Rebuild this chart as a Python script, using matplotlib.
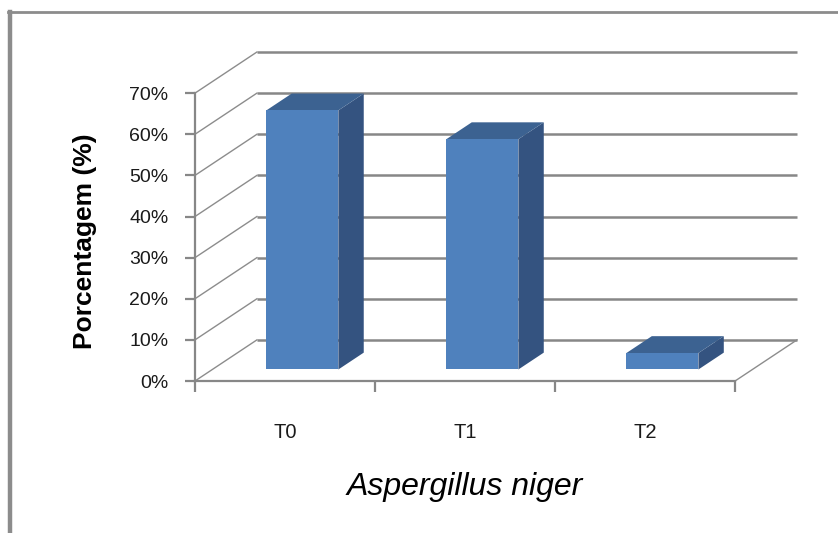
import numpy as np
import matplotlib.pyplot as plt
from matplotlib.patches import Polygon
from matplotlib.lines import Line2D

# dados do gráfico
categorias = ['T0', 'T1', 'T2']
valores = [0.63, 0.56, 0.04]
ticks_y = [0.0, 0.1, 0.2, 0.3, 0.4, 0.5, 0.6, 0.7]
rotulos_y = ['0%', '10%', '20%', '30%', '40%', '50%', '60%', '70%']

# geometria do "3D" obliquo (estilo Excel)
prof_x = 0.344   # deslocamento da profundidade em x (unidades de categoria)
prof_y = 0.10    # deslocamento da profundidade em y (unidades de valor)
larg = 0.4       # largura da barra
d0, d1 = 0.28, 0.69  # profundidade da face frontal e traseira da barra

cor_grade = '#878787'
cor_frente = '#4F81BD'
cor_lado = '#345380'
cor_topo = '#3C6291'

fig = plt.figure(figsize=(8.38, 5.33), dpi=100)
ax = fig.add_axes([195 / 838, 152 / 533, 602 / 838, 329 / 533])
n = len(categorias)
ax.set_xlim(0, n + prof_x)
ax.set_ylim(0, ticks_y[-1] + prof_y)


def p(x, y, d):
    return (x + d * prof_x, y + d * prof_y)


# parede do fundo e parede lateral
for t in ticks_y:
    x0, y0 = p(0, t, 1)
    x1, y1 = p(n, t, 1)
    ax.plot([x0, x1], [y0, y1], color=cor_grade, lw=1.8, zorder=1,
            solid_capstyle='butt', clip_on=False)
    ax.plot([0, x0], [t, y0], color='#8c8c8c', lw=1.0, zorder=1, clip_on=False)

# piso
xa, ya = p(n, 0, 1)
ax.plot([n, xa], [0, ya], color='#8c8c8c', lw=1.0, zorder=1, clip_on=False)

# barras
for i, v in enumerate(valores):
    xe = i + (1 - larg) / 2
    xd = xe + larg
    frente = [p(xe, 0, d0), p(xd, 0, d0), p(xd, v, d0), p(xe, v, d0)]
    lado = [p(xd, 0, d0), p(xd, 0, d1), p(xd, v, d1), p(xd, v, d0)]
    topo = [p(xe, v, d0), p(xd, v, d0), p(xd, v, d1), p(xe, v, d1)]
    ax.add_patch(Polygon(lado, closed=True, fc=cor_lado, ec='none', zorder=3))
    ax.add_patch(Polygon(topo, closed=True, fc=cor_topo, ec='none', zorder=3))
    ax.add_patch(Polygon(frente, closed=True, fc=cor_frente, ec='none', zorder=4))

# eixos
for s in ['top', 'right']:
    ax.spines[s].set_visible(False)
ax.spines['left'].set_bounds(0, ticks_y[-1])
ax.spines['bottom'].set_bounds(0, n)
for s in ['left', 'bottom']:
    ax.spines[s].set_color(cor_grade)
    ax.spines[s].set_linewidth(1.6)
ax.patch.set_visible(False)

ax.set_yticks(ticks_y)
ax.set_yticklabels(rotulos_y, fontsize=14, family='Liberation Sans', color='#1a1a1a')
ax.tick_params(axis='y', length=7, width=1.6, color=cor_grade, pad=12)

ax.set_xticks(np.arange(n + 1))
ax.set_xticklabels([])
ax.tick_params(axis='x', which='major', length=8, width=1.6, color=cor_grade)
ax.set_xticks(np.arange(n) + 0.5, minor=True)
ax.set_xticklabels(categorias, minor=True, fontsize=14.5, family='Liberation Sans',
                   color='#1a1a1a')
ax.tick_params(axis='x', which='minor', length=0, pad=30)

fig.text(85 / 838, 1 - 241 / 533, 'Porcentagem (%)', rotation=90, ha='center',
         va='center', fontsize=19, fontweight='bold', family='Liberation Sans')
fig.text(465 / 838, 1 - 487 / 533, 'Aspergillus niger', ha='center', va='center',
         fontsize=23, style='italic', family='Liberation Sans')

# moldura
fig.add_artist(Line2D([10 / 838, 10 / 838], [0, 1 - 12 / 533], color='#8c8c8c', lw=3.2))
fig.add_artist(Line2D([8 / 838, 1], [1 - 12 / 533, 1 - 12 / 533], color='#8c8c8c', lw=2.0))

fig.savefig('out.png', dpi=100)
